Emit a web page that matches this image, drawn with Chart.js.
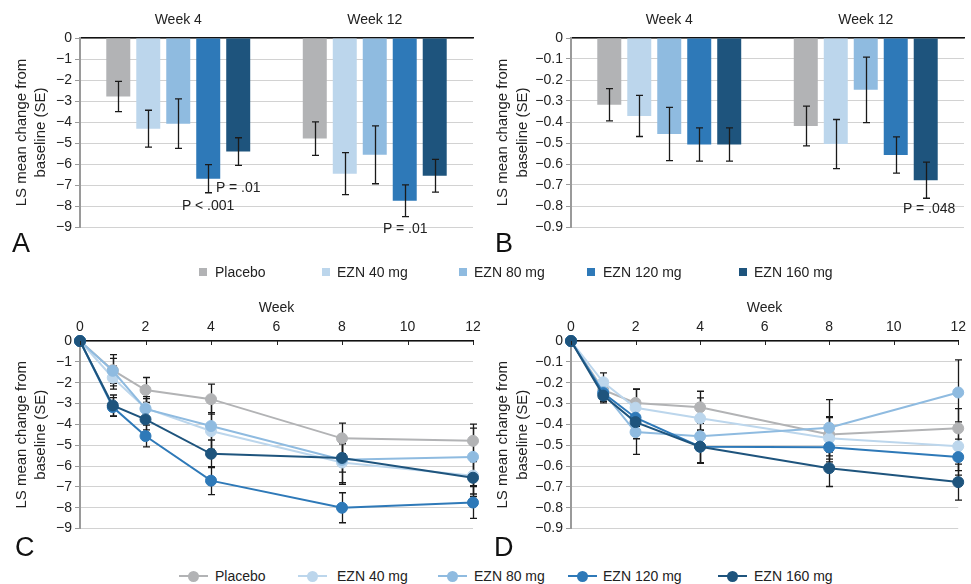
<!DOCTYPE html>
<html><head><meta charset="utf-8">
<script src="https://cdn.jsdelivr.net/npm/chart.js@4.4.1/dist/chart.umd.min.js"></script>
<style>
html,body{margin:0;padding:0;background:#fff;}
#wrap{position:relative;width:971px;height:584px;overflow:hidden;font-family:"Liberation Sans",Arial,sans-serif;color:#222;background:#fff;}
canvas{position:absolute;}
.t{position:absolute;font-size:14px;line-height:20px;white-space:nowrap;color:#222;}
.lab{position:absolute;font-size:27px;line-height:27px;color:#111;}
.sq{position:absolute;width:8px;height:8px;}
.ln{position:absolute;height:2px;width:29px;}
.dot{position:absolute;width:11px;height:11px;border-radius:50%;}
</style></head>
<body><div id="wrap">
<canvas id="cA" width="490" height="245" style="left:0;top:0"></canvas>
<canvas id="cB" width="481" height="245" style="left:490px;top:0"></canvas>
<canvas id="cC" width="490" height="250" style="left:0;top:290px"></canvas>
<canvas id="cD" width="481" height="250" style="left:490px;top:290px"></canvas>
</div>
<script>
// ---------- DATA ----------
const seriesNames = ['Placebo', 'EZN 40 mg', 'EZN 80 mg', 'EZN 120 mg', 'EZN 160 mg'];
const seriesColors = ['#b2b3b5', '#bcd6ec', '#8fbbe0', '#2e79b8', '#1e547d'];
const barCategories = ['Week 4', 'Week 12'];
const weeks = [0, 1, 2, 4, 8, 12];

// Panel A: LS mean change at week 4 / week 12, with SE
const aPlacebo = [-2.79, -4.79];  const aPlaceboSE = [0.72, 0.80];
const a40 = [-4.32, -6.46];       const a40SE = [0.88, 1.00];
const a80 = [-4.08, -5.56];       const a80SE = [1.18, 1.38];
const a120 = [-6.70, -7.75];      const a120SE = [0.67, 0.76];
const a160 = [-5.41, -6.56];      const a160SE = [0.66, 0.78];

// Panel B
const bPlacebo = [-0.318, -0.419]; const bPlaceboSE = [0.077, 0.095];
const b40 = [-0.371, -0.505];      const b40SE = [0.098, 0.117];
const b80 = [-0.457, -0.247];      const b80SE = [0.127, 0.156];
const b120 = [-0.507, -0.557];     const b120SE = [0.079, 0.086];
const b160 = [-0.507, -0.677];     const b160SE = [0.079, 0.086];

// Panel C: by week
const cPlacebo = [0, -1.40, -2.35, -2.79, -4.67, -4.79]; const cPlaceboSE = [0, 0.75, 0.60, 0.72, 0.73, 0.80];
const c40 = [0, -1.76, -3.22, -4.32, -5.83, -6.46];      const c40SE = [0, 0.55, 0.55, 0.88, 1.05, 1.00];
const c80 = [0, -1.43, -3.26, -4.08, -5.70, -5.56];      const c80SE = [0, 0.60, 0.50, 1.18, 1.10, 1.38];
const c120 = [0, -3.17, -4.56, -6.70, -8.00, -7.75];     const c120SE = [0, 0.45, 0.52, 0.67, 0.72, 0.76];
const c160 = [0, -3.09, -3.76, -5.41, -5.61, -6.56];     const c160SE = [0, 0.50, 0.50, 0.66, 0.68, 0.78];

// Panel D: by week
const dPlacebo = [0, -0.235, -0.297, -0.318, -0.448, -0.419]; const dPlaceboSE = [0, 0.040, 0.065, 0.077, 0.085, 0.095];
const d40 = [0, -0.198, -0.320, -0.371, -0.467, -0.505];      const d40SE = [0, 0.045, 0.090, 0.098, 0.100, 0.117];
const d80 = [0, -0.245, -0.437, -0.457, -0.416, -0.247];      const d80SE = [0, 0.045, 0.107, 0.127, 0.135, 0.156];
const d120 = [0, -0.250, -0.368, -0.507, -0.510, -0.557];     const d120SE = [0, 0.040, 0.080, 0.079, 0.070, 0.086];
const d160 = [0, -0.262, -0.389, -0.507, -0.610, -0.677];     const d160SE = [0, 0.035, 0.080, 0.079, 0.088, 0.086];

const yTitle = ['LS mean change from', 'baseline (SE)'];
const pNotes = [
  {text: 'P = .01', x: 216, y: 187},
  {text: 'P < .001', x: 182, y: 205},
  {text: 'P = .01', x: 383, y: 228},
  {text: 'P = .048', x: 903, y: 208}
];
const panelLetters = [
  {text: 'A', x: 12, y: 230}, {text: 'B', x: 495, y: 230},
  {text: 'C', x: 15, y: 534}, {text: 'D', x: 494, y: 534}
];

// ---------- RENDER ----------
Chart.defaults.font.family = '"Liberation Sans", Arial, sans-serif';
Chart.defaults.font.size = 14;
Chart.defaults.color = '#222';

function drawErrors(chart) {
  const ctx = chart.ctx, yScale = chart.scales.y;
  ctx.save();
  ctx.strokeStyle = '#1a1a1a';
  ctx.lineWidth = 1.3;
  chart.data.datasets.forEach((ds, di) => {
    const meta = chart.getDatasetMeta(di);
    if (!ds.se || meta.hidden) return;
    meta.data.forEach((el, i) => {
      const se = ds.se[i];
      if (!se) return;
      const raw = ds.data[i];
      const v = (typeof raw === 'object') ? raw.y : raw;
      const x = Math.round(el.x) + 0.5;
      const y1 = yScale.getPixelForValue(v + se), y2 = yScale.getPixelForValue(v - se);
      const cap = 3.5;
      ctx.beginPath();
      ctx.moveTo(x, y1); ctx.lineTo(x, y2);
      ctx.moveTo(x - cap, y1); ctx.lineTo(x + cap, y1);
      ctx.moveTo(x - cap, y2); ctx.lineTo(x + cap, y2);
      ctx.stroke();
    });
  });
  ctx.restore();
}
const errorBarPlugin = {
  id: 'errorBars',
  beforeDatasetsDraw(chart) { if (chart.config.type === 'line') drawErrors(chart); },
  afterDatasetsDraw(chart) { if (chart.config.type === 'bar') drawErrors(chart); }
};
const xTickMarks = {
  id: 'xTickMarks',
  afterDraw(chart) {
    if (chart.config.type !== 'line') return;
    const xs = chart.scales.x, ctx = chart.ctx, top = chart.chartArea.top;
    ctx.save(); ctx.strokeStyle = '#222'; ctx.lineWidth = 1;
    xs.ticks.forEach(t => {
      const x = Math.round(xs.getPixelForValue(t.value)) + 0.5;
      ctx.beginPath(); ctx.moveTo(x, top); ctx.lineTo(x, top + 4); ctx.stroke();
    });
    ctx.restore();
  }
};

function fmt(v, digits) {
  if (Math.abs(v) < 1e-9) return '0';
  return (v < 0 ? '\u2212' : '') + Math.abs(v).toFixed(digits);
}

function yAxis(min, max, step, digits, width, titlePad) {
  return {
    min: min, max: max,
    ticks: {stepSize: step, color: '#222', font: {size: 14}, padding: 3,
      callback: v => fmt(v, digits)},
    grid: {color: '#d2d2d2', lineWidth: 1, tickLength: 5, tickColor: '#9a9a9a', drawTicks: true},
    border: {color: '#9a9a9a', width: 2},
    title: {display: true, text: yTitle, color: '#222', font: {size: 15, lineHeight: 1.3},
      padding: {top: titlePad, bottom: 0}},
    afterFit: s => { s.width = width; }
  };
}

function barChart(id, cats, vals, ses, yCfg, pad) {
  return new Chart(document.getElementById(id), {
    type: 'bar',
    data: {
      labels: cats,
      datasets: seriesNames.map((n, i) => ({
        label: n, data: vals[i], se: ses[i],
        backgroundColor: seriesColors[i], borderWidth: 0,
        barPercentage: 0.8, categoryPercentage: 0.763
      }))
    },
    options: {
      responsive: false, animation: false, devicePixelRatio: 1,
      layout: {padding: pad},
      plugins: {legend: {display: false}, tooltip: {enabled: false}},
      scales: {
        x: {position: 'top', grid: {display: false, drawTicks: false},
          border: {display: true, color: '#111', width: 1.5},
          ticks: {padding: 9, color: '#222', font: {size: 14}},
          afterFit: s => { s.height = 38; }},
        y: yCfg
      }
    },
    plugins: [errorBarPlugin]
  });
}

function lineChart(id, vals, ses, yCfg, pad) {
  return new Chart(document.getElementById(id), {
    type: 'line',
    data: {
      datasets: seriesNames.map((n, i) => ({
        label: n, data: weeks.map((w, k) => ({x: w, y: vals[i][k]})), se: ses[i],
        borderColor: seriesColors[i], backgroundColor: seriesColors[i],
        pointBackgroundColor: seriesColors[i], pointBorderColor: seriesColors[i],
        borderWidth: 2, pointRadius: 5.5, pointBorderWidth: 1, tension: 0,
        clip: false, order: seriesNames.length - i
      }))
    },
    options: {
      responsive: false, animation: false, devicePixelRatio: 1,
      layout: {padding: pad},
      plugins: {legend: {display: false}, tooltip: {enabled: false}},
      scales: {
        x: {type: 'linear', position: 'top', min: 0, max: 12,
          grid: {display: false, drawTicks: false},
          border: {display: true, color: '#111', width: 1.5},
          ticks: {stepSize: 2, padding: 5, color: '#222', font: {size: 14}},
          title: {display: true, text: 'Week', color: '#222', font: {size: 14}, padding: {top: 10, bottom: 0}},
          afterFit: s => { s.height = 51; }},
        y: yCfg
      }
    },
    plugins: [errorBarPlugin, xTickMarks]
  });
}

barChart('cA', barCategories, [aPlacebo, a40, a80, a120, a160], [aPlaceboSE, a40SE, a80SE, a120SE, a160SE],
  yAxis(-9, 0, 1, 0, 80, 12), {left: 0, right: 17, top: 0, bottom: 18});
barChart('cB', barCategories, [bPlacebo, b40, b80, b120, b160], [bPlaceboSE, b40SE, b80SE, b120SE, b160SE],
  yAxis(-0.9, 0, 0.1, 1, 81, 3.5), {left: 0, right: 7, top: 0, bottom: 18});
lineChart('cC', [cPlacebo, c40, c80, c120, c160], [cPlaceboSE, c40SE, c80SE, c120SE, c160SE],
  yAxis(-9, 0, 1, 0, 80, 12), {left: 0, right: 17, top: 0, bottom: 10});
lineChart('cD', [dPlacebo, d40, d80, d120, d160], [dPlaceboSE, d40SE, d80SE, d120SE, d160SE],
  yAxis(-0.9, 0, 0.1, 1, 81, 3.5), {left: 0, right: 7, top: 0, bottom: 10});

// ---------- HTML text: notes, letters, legends ----------
const wrap = document.getElementById('wrap');
function add(cls, css, text) {
  const d = document.createElement('div');
  d.className = cls;
  Object.assign(d.style, css);
  if (text) d.textContent = text;
  wrap.appendChild(d);
  return d;
}
pNotes.forEach(p => add('t', {left: p.x + 'px', top: (p.y - 10) + 'px'}, p.text));
panelLetters.forEach(p => add('lab', {left: p.x + 'px', top: p.y + 'px'}, p.text));

const legendTextX = [215, 337, 474, 603, 754];
const legendSquareX = [199, 322, 459, 587, 739];
const legendLineX = [179, 298, 438, 568, 718];
seriesNames.forEach((n, i) => {
  add('sq', {left: legendSquareX[i] + 'px', top: '268px', background: seriesColors[i]});
  add('t', {left: legendTextX[i] + 'px', top: '262px'}, n);
  add('ln', {left: legendLineX[i] + 'px', top: '575px', background: seriesColors[i]});
  add('dot', {left: (legendLineX[i] + 9) + 'px', top: '570.5px', background: seriesColors[i]});
  add('t', {left: legendTextX[i] + 'px', top: '566px'}, n);
});
</script>
</body></html>
